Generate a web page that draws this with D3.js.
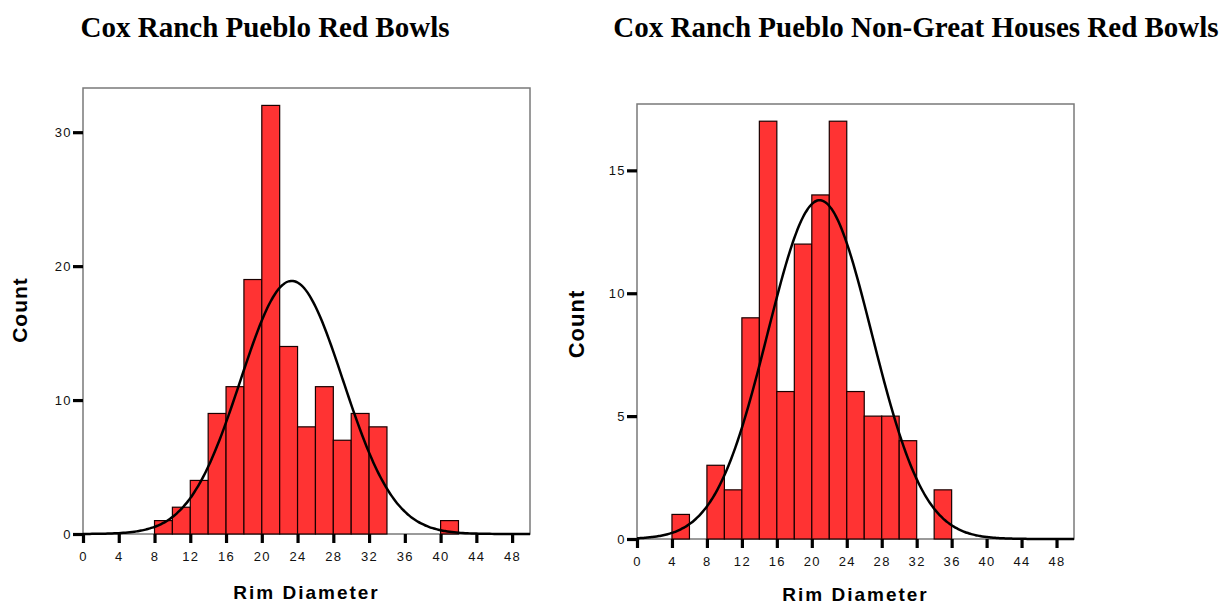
<!DOCTYPE html>
<html>
<head>
<meta charset="utf-8">
<script src="https://cdn.jsdelivr.net/npm/d3@7"></script>
<style>
  body { margin: 0; background: #fff; }
  .title { font-family: "Liberation Serif", "Times New Roman", serif; font-weight: bold; }
  .axlabel { font-family: "Liberation Sans", Arial, sans-serif; font-weight: bold; }
  .tick text { font-family: "Liberation Sans", Arial, sans-serif; font-size: 13px; letter-spacing: 1.4px; fill: #111; }
</style>
</head>
<body>
<svg id="chart" width="1227" height="605"></svg>
<script>
/*
 *  Data (histograms of rim diameter, bin width 2)
 */
var binWidth = 2;

// all red bowls
var allBinStarts = [8, 10, 12, 14, 16, 18, 20, 22, 24, 26, 28, 30, 32, 40];
var allCounts    = [1, 2, 4, 9, 11, 19, 32, 14, 8, 11, 7, 9, 8, 1];
var allMean = 23.35, allSd = 5.74;

// non-great houses red bowls
var ngBinStarts = [4, 8, 10, 12, 14, 16, 18, 20, 22, 24, 26, 28, 30, 34];
var ngCounts    = [1, 3, 2, 9, 17, 6, 12, 14, 17, 6, 5, 5, 4, 2];
var ngMean = 20.9, ngSd = 5.96;

var xTicks = [0, 4, 8, 12, 16, 20, 24, 28, 32, 36, 40, 44, 48];
var allYTicks = [0, 10, 20, 30];
var ngYTicks = [0, 5, 10, 15];

var svg = d3.select("#chart");

function normalPdf(x, m, s) {
  return Math.exp(-0.5 * Math.pow((x - m) / s, 2)) / (s * Math.sqrt(2 * Math.PI));
}

function drawHist(opt) {
  var g = svg.append("g");
  var x = d3.scaleLinear().domain([0, 50]).range([opt.left, opt.right]);
  var y = d3.scaleLinear().domain([0, opt.yMax]).range([opt.bottom, opt.top]);

  // frame
  g.append("rect")
    .attr("x", opt.left).attr("y", opt.top)
    .attr("width", opt.right - opt.left).attr("height", opt.bottom - opt.top)
    .style("fill", "none").style("stroke", "#7a7a7a").style("stroke-width", 1.5);

  // bars
  var bins = opt.starts.map(function(s, i) { return {x0: s, n: opt.counts[i]}; });
  g.selectAll(".bar").data(bins).enter().append("rect")
    .attr("class", "bar")
    .attr("x", function(d) { return x(d.x0); })
    .attr("y", function(d) { return y(d.n); })
    .attr("width", function(d) { return x(d.x0 + binWidth) - x(d.x0); })
    .attr("height", function(d) { return y(0) - y(d.n); })
    .style("fill", "#ff3333")
    .style("stroke", "#1a0000")
    .style("stroke-width", 1.2);

  // normal curve
  var total = d3.sum(opt.counts);
  var pts = d3.range(0, 50.01, 0.25);
  var line = d3.line()
    .x(function(d) { return x(d); })
    .y(function(d) { return y(total * binWidth * normalPdf(d, opt.mean, opt.sd)); })
    .curve(d3.curveBasis);
  g.append("path")
    .datum(pts)
    .attr("d", line)
    .style("fill", "none").style("stroke", "#000").style("stroke-width", 2.5);

  // axes
  var xa = g.append("g")
    .attr("transform", "translate(0," + opt.bottom + ")")
    .call(d3.axisBottom(x).tickValues(xTicks).tickSize(9).tickPadding(9));
  var ya = g.append("g")
    .attr("transform", "translate(" + opt.left + ",0)")
    .call(d3.axisLeft(y).tickValues(opt.yTicks).tickSize(10).tickPadding(1));
  [xa, ya].forEach(function(a) {
    a.select(".domain").remove();
    a.selectAll(".tick line").style("stroke", "#000").style("stroke-width", 3.2);
  });

  // titles
  g.append("text").attr("class", "title")
    .attr("x", opt.titleX).attr("y", 37)
    .attr("text-anchor", "middle")
    .style("font-size", opt.titleSize + "px")
    .text(opt.title);

  g.append("text").attr("class", "axlabel")
    .attr("x", (opt.left + opt.right) / 2 + opt.xLabOff).attr("y", opt.xLabY)
    .attr("text-anchor", "middle")
    .style("font-size", "19px").style("letter-spacing", "2px")
    .text("Rim Diameter");

  g.append("text").attr("class", "axlabel")
    .attr("transform", "translate(" + opt.cntX + "," + opt.cntY + ") rotate(-90)")
    .attr("text-anchor", "middle")
    .style("font-size", opt.cntSize + "px").style("letter-spacing", "1px")
    .text("Count");
}

drawHist({
  starts: allBinStarts, counts: allCounts, mean: allMean, sd: allSd,
  left: 83, right: 530, top: 88, bottom: 534, yMax: 33.3, yTicks: allYTicks,
  title: "Cox Ranch Pueblo Red Bowls", titleX: 265, titleSize: 29,
  xLabY: 599, xLabOff: 0, cntX: 27, cntY: 310, cntSize: 21
});

drawHist({
  starts: ngBinStarts, counts: ngCounts, mean: ngMean, sd: ngSd,
  left: 637, right: 1074, top: 104, bottom: 539, yMax: 17.7, yTicks: ngYTicks,
  title: "Cox Ranch Pueblo Non-Great Houses Red Bowls", titleX: 916, titleSize: 29,
  xLabY: 601, xLabOff: 0, cntX: 584, cntY: 324, cntSize: 22
});
</script>
</body>
</html>
